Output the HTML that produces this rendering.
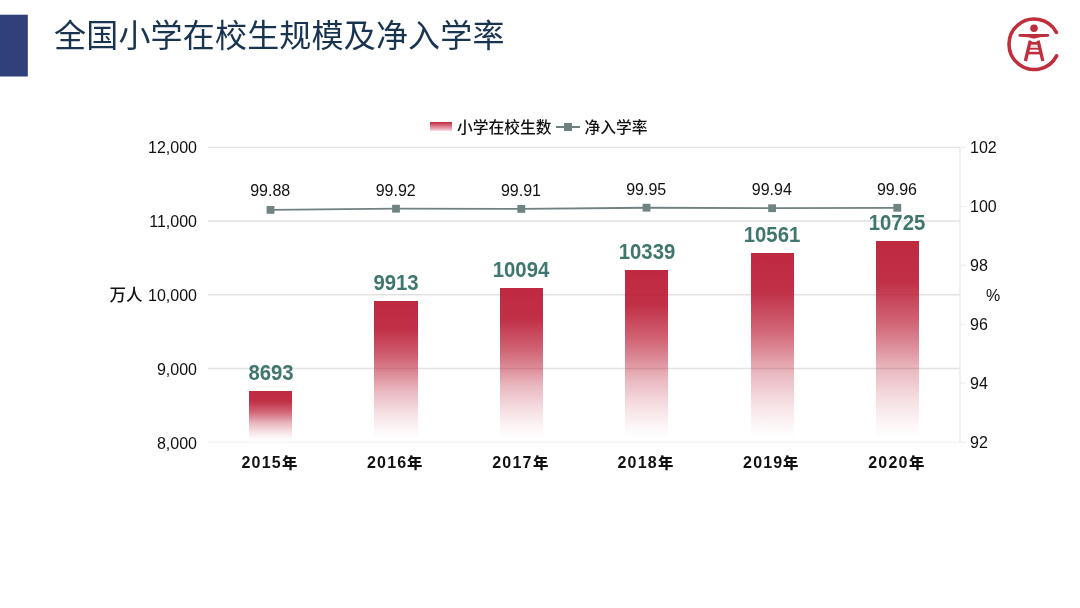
<!DOCTYPE html>
<html lang="zh-CN">
<head>
<meta charset="utf-8">
<title>全国小学在校生规模及净入学率</title>
<style>
html,body{margin:0;padding:0;background:#fff;}
body{width:1080px;height:608px;position:relative;overflow:hidden;font-family:"Liberation Sans","Noto Sans CJK SC",sans-serif;color:#111;}
.abs{position:absolute;white-space:nowrap;}
#title{left:54px;top:11.5px;font-size:32px;line-height:48px;color:#183451;font-weight:400;letter-spacing:0.19px;}
.yl{position:absolute;width:60px;text-align:right;left:137px;font-size:16px;line-height:18px;color:#111;}
.yr{position:absolute;left:970px;font-size:16px;line-height:18px;color:#111;}
.bar{position:absolute;background:linear-gradient(to bottom,rgba(186,25,50,.93) 0%,rgba(186,25,50,.90) 20%,rgba(186,25,50,.68) 40%,rgba(186,25,50,.53) 50%,rgba(186,25,50,.30) 64%,rgba(186,25,50,.13) 80%,rgba(186,25,50,.04) 91%,rgba(186,25,50,0) 98%);}
.bl{position:absolute;width:100px;text-align:center;font-weight:700;font-size:21.5px;line-height:24px;color:#3f766e;transform:scaleX(.945);}
.xl{position:absolute;width:100px;text-align:center;font-weight:700;font-size:16px;line-height:18px;color:#111;letter-spacing:1.2px;top:454px;}
.xl span{font-size:14.5px;font-weight:900;display:inline-block;transform:scale(1.06,1);transform-origin:0 50%;letter-spacing:0;}
.ll{position:absolute;width:80px;text-align:center;font-size:16px;line-height:18px;color:#111;}
.lg{position:absolute;font-size:15.75px;line-height:20px;color:#111;top:118.3px;font-weight:500;}
</style>
</head>
<body>
<svg class="abs" style="left:0;top:0" width="40" height="90"><rect x="0" y="14.7" width="27.8" height="61.8" fill="#30407a"/></svg>
<div id="title" class="abs">全国小学在校生规模及净入学率</div>


<svg class="abs" style="left:1000px;top:10px" width="70" height="70" viewBox="0 0 70 70">
  <g fill="none" stroke="#bf2e3c">
    <path d="M56.4 22.3 A25.2 25.2 0 1 0 56.6 45.8" stroke-width="3.6" stroke-linecap="round"/>
    <path d="M30.3 30.6 L25.4 51" stroke-width="3.3" stroke-linecap="butt"/>
    <path d="M38.1 30.6 L42.8 51" stroke-width="3.3" stroke-linecap="butt"/>
    <path d="M29.5 33.3 H38.9" stroke-width="2.8"/>
    <path d="M28.5 38.7 H39.9" stroke-width="1.9"/>
    <path d="M27.6 43.1 H40.8" stroke-width="2.6"/>
    <path d="M28.8 36.2 H39.6" stroke-width="1.2" stroke-opacity=".25"/>
  </g>
  <path d="M18.4 25.3 Q18.4 24 19.7 24 H48 Q49.3 24 49.3 25.3 Q49.3 26.7 48 26.8 L40 27.3 Q36 27.8 34 28.8 Q32 27.8 28 27.3 L19.7 26.8 Q18.4 26.7 18.4 25.3 Z" fill="#bf2e3c"/>
  <circle cx="34" cy="18.3" r="3.8" fill="#bf2e3c"/>
</svg>


<div class="abs" style="left:430px;top:122px;width:22px;height:9px;background:linear-gradient(to bottom,#c1283f,#e9a9b5 75%,#f7e1e5);"></div>
<div class="lg" style="left:457px;">小学在校生数</div>
<svg class="abs" style="left:554px;top:119.3px" width="30" height="16"><line x1="2" y1="8" x2="26" y2="8" stroke="#6d807f" stroke-width="2"/><rect x="10" y="4" width="8" height="8" fill="#6d807f"/></svg>
<div class="lg" style="left:584.6px;">净入学率</div>

<svg class="abs" style="left:0;top:0" width="1080" height="608">
<line x1="208" y1="147.4" x2="960" y2="147.4" stroke="#e2e2e2" stroke-width="1.5"/>
<line x1="208" y1="221.1" x2="960" y2="221.1" stroke="#e2e2e2" stroke-width="1.5"/>
<line x1="208" y1="294.7" x2="960" y2="294.7" stroke="#e2e2e2" stroke-width="1.5"/>
<line x1="208" y1="368.4" x2="960" y2="368.4" stroke="#e2e2e2" stroke-width="1.5"/>
<line x1="208" y1="442.2" x2="960" y2="442.2" stroke="#f3f3f3" stroke-width="1.5"/>
<line x1="960" y1="147.4" x2="960" y2="442.2" stroke="#e6e6e6" stroke-width="1.2"/>
<line x1="960" y1="147.4" x2="966" y2="147.4" stroke="#ececec" stroke-width="1"/>
<line x1="960" y1="206.4" x2="966" y2="206.4" stroke="#ececec" stroke-width="1"/>
<line x1="960" y1="265.3" x2="966" y2="265.3" stroke="#ececec" stroke-width="1"/>
<line x1="960" y1="324.3" x2="966" y2="324.3" stroke="#ececec" stroke-width="1"/>
<line x1="960" y1="383.2" x2="966" y2="383.2" stroke="#ececec" stroke-width="1"/>
<line x1="960" y1="442.2" x2="966" y2="442.2" stroke="#ececec" stroke-width="1"/>
</svg>
<div class="yl" style="top:138.5px">12,000</div>
<div class="yl" style="top:212.5px">11,000</div>
<div class="yl" style="top:286.5px">10,000</div>
<div class="yl" style="top:360.5px">9,000</div>
<div class="yl" style="top:434.5px">8,000</div>
<div class="abs" style="left:109.5px;top:285.5px;font-size:16.5px;line-height:18px;font-weight:500;">万人</div>
<div class="yr" style="top:138.5px">102</div>
<div class="yr" style="top:197.5px">100</div>
<div class="yr" style="top:256.5px">98</div>
<div class="yr" style="top:315.5px">96</div>
<div class="yr" style="top:374.5px">94</div>
<div class="yr" style="top:433.5px">92</div>
<div class="abs" style="left:986px;top:287.0px;font-size:16px;line-height:18px;">%</div>
<div class="bar" style="left:248.95px;top:391.1px;width:43.1px;height:51.1px"></div>
<div class="bar" style="left:374.45px;top:301.2px;width:43.1px;height:141.0px"></div>
<div class="bar" style="left:499.75px;top:288.1px;width:43.1px;height:154.1px"></div>
<div class="bar" style="left:624.95px;top:270.3px;width:43.1px;height:171.9px"></div>
<div class="bar" style="left:750.55px;top:253.4px;width:43.1px;height:188.8px"></div>
<div class="bar" style="left:875.75px;top:241.3px;width:43.1px;height:200.9px"></div>
<div class="bl" style="left:220.50px;top:360.84px">8693</div>
<div class="bl" style="left:346.00px;top:270.84px">9913</div>
<div class="bl" style="left:471.30px;top:257.84px">10094</div>
<div class="bl" style="left:596.50px;top:239.84px">10339</div>
<div class="bl" style="left:722.10px;top:222.84px">10561</div>
<div class="bl" style="left:847.30px;top:210.84px">10725</div>
<svg class="abs" style="left:0;top:0" width="1080" height="608">
<polyline fill="none" stroke="#6f8281" stroke-width="1.8" points="270.5,209.9 396.0,208.7 521.3,208.9 646.5,207.75 772.1,208.2 897.3,207.8"/>
<g fill="#6f8383">
<rect x="266.6" y="206.0" width="7.8" height="7.8"/>
<rect x="392.1" y="204.8" width="7.8" height="7.8"/>
<rect x="517.4" y="205.0" width="7.8" height="7.8"/>
<rect x="642.6" y="203.8" width="7.8" height="7.8"/>
<rect x="768.2" y="204.3" width="7.8" height="7.8"/>
<rect x="893.4" y="203.9" width="7.8" height="7.8"/>
</g></svg>
<div class="ll" style="left:230.20px;top:181.5px">99.88</div>
<div class="ll" style="left:355.70px;top:181.5px">99.92</div>
<div class="ll" style="left:481.00px;top:181.5px">99.91</div>
<div class="ll" style="left:606.20px;top:180.5px">99.95</div>
<div class="ll" style="left:731.80px;top:180.5px">99.94</div>
<div class="ll" style="left:857.00px;top:180.5px">99.96</div>
<div class="xl" style="left:218.90px">2015<span>年</span></div>
<div class="xl" style="left:344.40px">2016<span>年</span></div>
<div class="xl" style="left:469.70px">2017<span>年</span></div>
<div class="xl" style="left:594.90px">2018<span>年</span></div>
<div class="xl" style="left:720.50px">2019<span>年</span></div>
<div class="xl" style="left:845.70px">2020<span>年</span></div>
</body>
</html>
